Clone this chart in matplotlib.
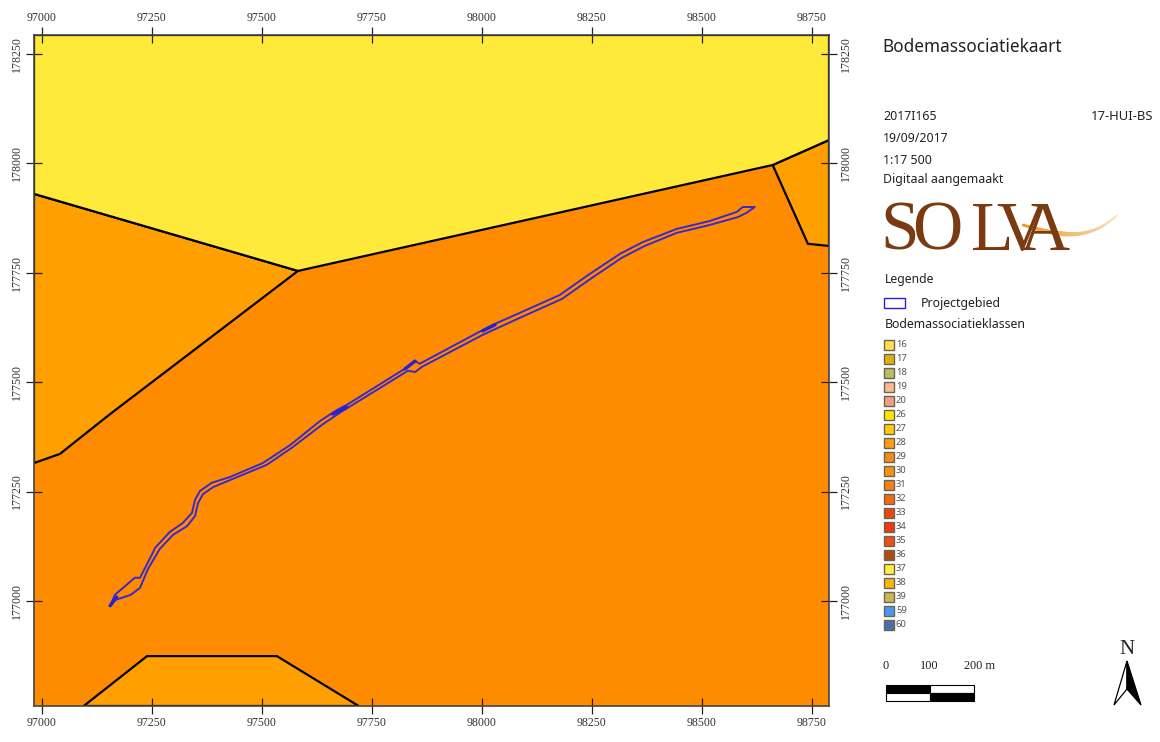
import matplotlib
matplotlib.use("Agg")
import matplotlib.pyplot as plt
import numpy as np
from matplotlib.patches import Polygon, Rectangle

# map data, in Lambert metres
x_ticks = [97000, 97250, 97500, 97750, 98000, 98250, 98500, 98750]
y_ticks = [177000, 177250, 177500, 177750, 178000, 178250]

yellow_x = [96982, 97582, 98661, 98789, 98789, 96982]
yellow_y = [177930, 177754, 177996, 178053, 178293, 178293]
west_x = [96982, 97582, 97155, 97041, 96982]
west_y = [177930, 177754, 177427, 177336, 177315]
east_x = [98661, 98741, 98789, 98789]
east_y = [177996, 177816, 177811, 178053]
south_x = [97095, 97239, 97534, 97720]
south_y = [176760, 176874, 176874, 176760]

project_x = [97155, 97166, 97211, 97223, 97252, 97257, 97291, 97320, 97341, 97348,
             97359, 97386, 97427, 97502, 97564, 97632, 97670, 97693, 97832, 97848, 97859,
             98002, 98025, 98086, 98177, 98245, 98314, 98366, 98443, 98518, 98580,
             98593, 98620, 98602, 98582, 98518, 98443, 98370, 98318, 98250, 98182,
             98091, 98002, 97864, 97848, 97832, 97677, 97636, 97568, 97511, 97427,
             97389, 97366, 97355, 97348, 97330, 97298, 97268, 97241, 97223, 97202, 97166]
project_y = [176989, 177014, 177053, 177053, 177110, 177121, 177158, 177178, 177201, 177231,
             177251, 177270, 177283, 177315, 177356, 177411, 177436, 177448, 177535, 177548, 177542,
             177619, 177631, 177658, 177699, 177747, 177793, 177820, 177850, 177868, 177889,
             177900, 177900, 177887, 177877, 177859, 177841, 177811, 177784, 177738, 177690,
             177649, 177608, 177535, 177523, 177526, 177430, 177402, 177350, 177311, 177276,
             177260, 177244, 177224, 177194, 177171, 177151, 177119, 177073, 177030, 177014, 177002]

# short stretches where the outline thickens
thick_x = [[97155, 97170], [97661, 97693], [98002, 98030], [97825, 97848]]
thick_y = [[176989, 177009], [177427, 177443], [177617, 177631], [177530, 177548]]

legend_classes = ["16", "17", "18", "19", "20", "26", "27", "28", "29", "30", "31",
                  "32", "33", "34", "35", "36", "37", "38", "39", "59", "60"]
legend_colors = ["#FFE04A", "#E0B010", "#B8C060", "#FFB890", "#F0A080", "#FFE800", "#FFCC10",
                 "#FF9F10", "#F58A15", "#F59410", "#F58018", "#F56A10", "#E84810", "#F03810",
                 "#E85018", "#B04A10", "#FFF040", "#F5B810", "#C8B850", "#4898F0", "#4870A8"]
info_lines = ["2017I165", "19/09/2017", "1:17 500", "Digitaal aangemaakt"]
logo_letters = ["S", "O", "L", "V", "A"]
scale_labels = ["0", "100", "200 m"]

swoosh_px = [1023, 1055, 1082, 1108, 1117]
swoosh_py = [225, 233, 233, 223, 215]

TICK_COL = "#333333"
SIDE_COL = "#222222"
BLUE = "#3A28C8"
SANS = "Noto Sans"
SERIF = "Liberation Serif"

fig = plt.figure(figsize=(11.6, 7.42), dpi=100, facecolor="white")
W, H = 1160.0, 742.0

# map frame
ax = fig.add_axes([34 / W, 1 - 706 / H, (829 - 34) / W, (706 - 35) / H])
ax.set_xlim(96982, 98789)
ax.set_ylim(176760, 178293)
ax.set_facecolor("#FF8C00")

ax.fill(west_x, west_y, facecolor="#FF9F00", edgecolor="black", lw=1.6)
ax.fill(east_x, east_y, facecolor="#FF9F00", edgecolor="black", lw=1.6)
ax.fill(south_x, south_y, facecolor="#FF9F00", edgecolor="black", lw=1.6)
ax.fill(yellow_x, yellow_y, facecolor="#FFE93B", edgecolor="black", lw=1.6)
ax.plot(project_x + project_x[:1], project_y + project_y[:1], color=BLUE, lw=1.4,
        solid_joinstyle="round")
for tx, ty in zip(thick_x, thick_y):
    ax.plot(tx, ty, color="#2A1FD8", lw=2.4, solid_capstyle="round")

ax.set_xticks(x_ticks)
ax.set_yticks(y_ticks)
ax.tick_params(axis="both", which="major", direction="inout", length=11.5, width=0.9,
               color="#222222", top=True, right=True, labeltop=True, labelright=True,
               labelsize=8.6, labelcolor=TICK_COL, pad=2.5)
for lab in ax.get_xticklabels():
    lab.set_fontfamily(SERIF)
for lab in ax.get_yticklabels():
    lab.set_fontfamily(SERIF)
    lab.set_rotation(90)
    lab.set_va("center")
for spine in ax.spines.values():
    spine.set_color("#444444")
    spine.set_linewidth(1.2)

# side panel drawn in pixel coordinates
side = fig.add_axes([0, 0, 1, 1])
side.set_xlim(0, W)
side.set_ylim(H, 0)
side.axis("off")
side.patch.set_alpha(0)

side.text(882, 47, "Bodemassociatiekaart", family=SANS, fontsize=12.4, color=SIDE_COL, va="center")
for ypos, line in zip([117, 139, 160, 180], info_lines):
    side.text(883, ypos, line, family=SANS, fontsize=8.9, color=SIDE_COL, va="center")
side.text(1153, 117, "17-HUI-BS", family=SANS, fontsize=9.4, color=SIDE_COL, va="center", ha="right")

# logo, letters placed one by one because V and A overlap
for xpos, letter in zip([880, 912, 971, 996, 1019], logo_letters):
    side.text(xpos, 250, letter, family=SERIF, fontsize=50, color="#7A3A12", va="baseline")
sw_coef = np.polyfit(swoosh_px, swoosh_py, 3)
sw_x = np.linspace(swoosh_px[0], swoosh_px[-1], 60)
sw_y = np.polyval(sw_coef, sw_x)
sw_t = np.linspace(0, 1, 60)
for i in range(len(sw_t) - 1):
    shade = np.array([0.91, 0.60, 0.15]) * (1 - sw_t[i]) + np.array([0.98, 0.87, 0.72]) * sw_t[i]
    side.plot(sw_x[i:i + 2], sw_y[i:i + 2], color=shade, lw=3.4 - 2.0 * abs(sw_t[i] - 0.4) * 2,
              solid_capstyle="round")

side.text(885, 279, "Legende", family=SANS, fontsize=8.8, color=SIDE_COL, va="center")
side.add_patch(Rectangle((884, 298), 21, 10, facecolor="white", edgecolor="#2A1FD0", lw=1))
side.text(921, 303, "Projectgebied", family=SANS, fontsize=8.9, color=SIDE_COL, va="center")
side.text(885, 325, "Bodemassociatieklassen", family=SANS, fontsize=8.9, color=SIDE_COL, va="center")

for i, (name, col) in enumerate(zip(legend_classes, legend_colors)):
    ypos = 344.7 + 14 * i
    side.add_patch(Rectangle((884, ypos - 4.8), 9.5, 9.6, facecolor=col, edgecolor="#6B6355", lw=1))
    side.text(896, ypos, name, family=SANS, fontsize=6.8, color="#555555", va="center")

# scale bar
for xpos, lab, align in zip([886, 929, 964], scale_labels, ["center", "center", "left"]):
    side.text(xpos, 666, lab, family=SERIF, fontsize=8.8, color=SIDE_COL, ha=align, va="center")
side.add_patch(Rectangle((886, 685), 44, 8, facecolor="black", edgecolor="black", lw=0.8))
side.add_patch(Rectangle((930, 685), 44, 8, facecolor="white", edgecolor="black", lw=0.8))
side.add_patch(Rectangle((886, 693), 44, 8, facecolor="white", edgecolor="black", lw=0.8))
side.add_patch(Rectangle((930, 693), 44, 8, facecolor="black", edgecolor="black", lw=0.8))

# north arrow
side.text(1127, 650, "N", family=SERIF, fontsize=15, color=SIDE_COL, ha="center", va="center")
side.add_patch(Polygon([(1127, 661), (1114, 705), (1127, 689)], facecolor="white", edgecolor="black", lw=0.9))
side.add_patch(Polygon([(1127, 661), (1141, 705), (1127, 689)], facecolor="black", edgecolor="black", lw=0.9))

fig.savefig("out.png", dpi=100)
